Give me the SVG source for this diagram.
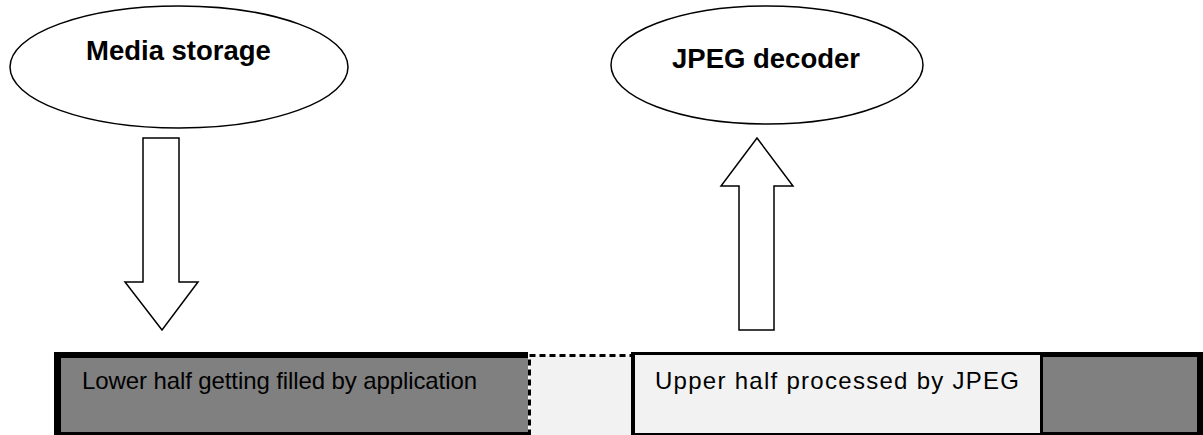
<svg xmlns="http://www.w3.org/2000/svg" width="1203" height="435" viewBox="0 0 1203 435">
<style>
.node{fill:#ffffff;stroke:#000000;stroke-width:1.5}
.title{font-family:"Liberation Sans",Arial,sans-serif;font-weight:bold;font-size:27.5px;fill:#000000}
.label{font-family:"Liberation Sans",Arial,sans-serif;font-size:24px;fill:#000000}
.arrow{fill:#ffffff;stroke:#000000;stroke-width:1.5;stroke-linejoin:miter}
</style>
<rect x="0" y="0" width="1203" height="435" fill="#ffffff"/>
<g id="media-storage">
<ellipse class="node" cx="179" cy="67" rx="169" ry="61"/>
<text class="title" x="86" y="60">Media storage</text>
</g>
<g id="jpeg-decoder">
<ellipse class="node" cx="767" cy="65" rx="156" ry="59"/>
<text class="title" x="672" y="68">JPEG decoder</text>
</g>
<g id="connectors">
<polygon class="arrow" points="143,138 179,138 179,282 198,282 162,330 125,282 143,282"/>
<polygon class="arrow" points="757,138 793,186 774,186 774,330 739,330 739,186 721,186"/>
</g>
<g id="buffer">
<rect x="54" y="352" width="474" height="83" fill="#000000"/>
<rect x="61" y="358" width="467" height="74" fill="#808080"/>
<rect x="529.5" y="355.5" width="103" height="82" fill="#f2f2f2" stroke="#000000" stroke-width="3" stroke-dasharray="6,4"/>
<rect x="631" y="352" width="572" height="83" fill="#000000"/>
<rect x="635" y="355" width="405" height="78" fill="#f2f2f2"/>
<rect x="1043" y="357" width="154" height="75" fill="#808080"/>
<text class="label" x="82" y="389" textLength="395" lengthAdjust="spacing">Lower half getting filled by application</text>
<text class="label" x="655" y="389" textLength="364" lengthAdjust="spacing">Upper half processed by JPEG</text>
</g>
</svg>
